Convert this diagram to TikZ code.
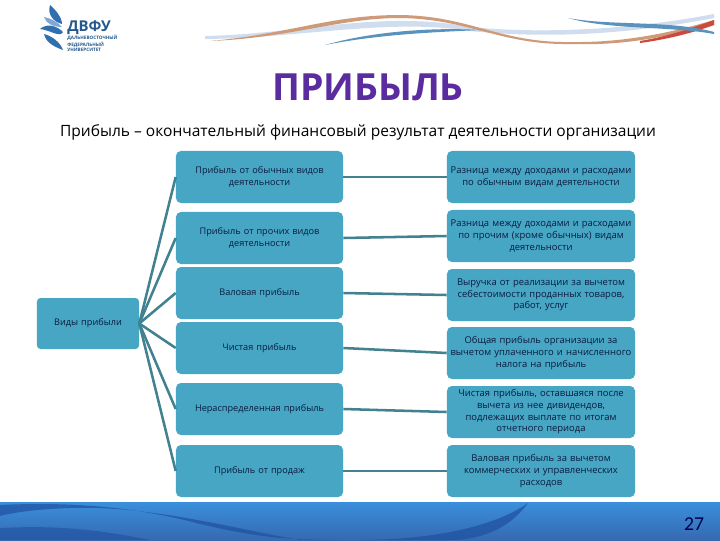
\documentclass[tikz,border=0pt]{standalone}
\usepackage{fontspec}
\setmainfont{Open Sans}
\newfontfamily\numfont{Carlito}
\usetikzlibrary{positioning}
\definecolor{boxblue}{HTML}{46A6C4}
\definecolor{linkteal}{HTML}{42818F}
\definecolor{titlepurple}{HTML}{5A2CA0}
\definecolor{inkblue}{HTML}{0B1B3F}
\definecolor{logoblue}{HTML}{2F6FB0}
\definecolor{logopale}{HTML}{7FA8D4}
\definecolor{ribbonpale}{HTML}{CFDDEE}
\definecolor{ribbonbrown}{HTML}{CE9A78}
\definecolor{ribbonred}{HTML}{CC4A3C}
\definecolor{ribbonblue}{HTML}{5A92BE}
\definecolor{bandtop}{HTML}{3A8FDC}
\definecolor{bandbottom}{HTML}{3669B0}
\definecolor{banddark}{HTML}{1F50A0}
\tikzset{
  leftbox/.style = {draw=none, fill=boxblue, rounded corners=3.5pt, minimum width=4.175cm, minimum height=1.3cm, align=center, font=\fontsize{6.5}{8.4}\selectfont, text=inkblue, inner sep=1pt, text width=3.9cm},
  rightbox/.style = {leftbox, minimum width=4.7cm, text width=4.6cm, font=\fontsize{6.7}{8.3}\selectfont},
  rootbox/.style = {leftbox, minimum width=2.55cm, minimum height=1.275cm, text width=2.4cm, rounded corners=2.5pt},
  link/.style = {draw=linkteal, line width=1.8pt}
}

\begin{document}
\begin{tikzpicture}[x=0.025cm, y=-0.025cm]
  \useasboundingbox (0,0) rectangle (720,540);

  % Background
  \fill[white] (0,0) rectangle (720,540);

  % Top ribbons
  \fill[ribbonpale] (205,36) .. controls (300,34) and (380,10) .. (470,27) .. controls (540,34) and (630,30) .. (714,14) -- (714,18) .. controls (620,36) and (540,38) .. (470,31) .. controls (390,18) and (300,38) .. (205,39) -- cycle;
  \fill[ribbonbrown] (210,41) .. controls (290,34) and (330,15) .. (400,15) .. controls (470,16) and (500,43) .. (570,42) .. controls (630,43) and (680,30) .. (714,20) -- (714,25) .. controls (670,35) and (630,46) .. (570,44) .. controls (500,45) and (470,19) .. (400,18) .. controls (340,18) and (290,38) .. (210,41) -- cycle;
  \fill[ribbonred] (640,41) .. controls (670,36) and (695,27) .. (714,20) -- (714,25) .. controls (695,32) and (670,39) .. (640,43) -- cycle;
  \fill[ribbonblue] (325,45) .. controls (370,32) and (430,27) .. (480,30) .. controls (440,32) and (380,34) .. (325,45) -- cycle;
  \fill[ribbonblue] (568,18) .. controls (610,26) and (670,20) .. (714,32) -- (714,34) .. controls (670,26) and (610,30) .. (568,18) -- cycle;

  % Logo
  \fill[logoblue] (50,5) .. controls (56,10) and (62,18) .. (62,24) .. controls (54,22) and (47,15) .. (50,5) -- cycle;
  \fill[logopale] (44,17) .. controls (50,18) and (58,22) .. (62,27) .. controls (54,27) and (46,24) .. (44,17) -- cycle;
  \fill[logoblue] (40,29) .. controls (48,22) and (58,27) .. (63,32) .. controls (60,38) and (50,30) .. (40,29) -- cycle;
  \fill[logoblue] (44,34) .. controls (52,36) and (60,42) .. (63,50) .. controls (55,47) and (46,43) .. (44,34) -- cycle;
  \node[inner sep=0pt, anchor=west, text=logoblue!80!black, font=\fontsize{10.6}{11}\bfseries\selectfont] (logoname) at (67,28) {ДВФУ};
  \node[inner sep=0pt, anchor=north west, text=logoblue!80!black, align=left, font=\fontsize{3.3}{3.7}\bfseries\selectfont] (logotext) at (67,35) {ДАЛЬНЕВОСТОЧНЫЙ\\ФЕДЕРАЛЬНЫЙ\\УНИВЕРСИТЕТ};

  % Bottom band
  \shade[top color=bandtop, bottom color=bandbottom] (0,502) rectangle (720,540);
  \fill[banddark, opacity=.7] (0,505) .. controls (60,502) and (130,505) .. (200,524) .. controls (260,538) and (290,540) .. (340,540) -- (300,540) .. controls (240,530) and (150,505) .. (70,508) .. controls (40,509) and (15,512) .. (0,516) -- cycle;
  \fill[banddark, opacity=.6] (0,528) .. controls (60,525) and (100,530) .. (150,540) -- (0,540) -- cycle;
  \fill[banddark, opacity=.7] (360,540) .. controls (420,540) and (490,530) .. (528,503) .. controls (505,535) and (470,540) .. (450,540) -- cycle;
  \node[text=blue!30!black, font=\numfont\fontsize{14}{15}\selectfont, inner sep=0pt] (pagenum) at (694,524) {27};

  % Title
  \node[inner sep=0pt, text=titlepurple, font=\fontsize{26.6}{28}\bfseries\selectfont] (title) at (368,87) {ПРИБЫЛЬ};
  \node[inner sep=0pt, text=black, font=\fontsize{11.05}{13}\selectfont] (subtitle) at (358,132) {Прибыль – окончательный финансовый результат деятельности организации};

  % Boxes
  \node[rootbox] (root) at (88,323.5) {Виды прибыли};

  \node[leftbox] (ordinary) at (259.5,177) {Прибыль от обычных видов\\деятельности};
  \node[leftbox] (other) at (259.5,238) {Прибыль от прочих видов\\деятельности};
  \node[leftbox] (gross) at (259.5,293) {Валовая прибыль};
  \node[leftbox] (net) at (259.5,348) {Чистая прибыль};
  \node[leftbox] (retained) at (259.5,409) {Нераспределенная прибыль};
  \node[leftbox] (sales) at (259.5,471) {Прибыль от продаж};

  \node[rightbox] (ordinarydef) at (541,177) {Разница между доходами и расходами\\по обычным видам деятельности};
  \node[rightbox] (otherdef) at (541,236) {Разница между доходами и расходами\\по прочим (кроме обычных) видам\\деятельности};
  \node[rightbox] (grossdef) at (541,295) {Выручка от реализации за вычетом\\себестоимости проданных товаров,\\работ, услуг};
  \node[rightbox] (netdef) at (541,353) {Общая прибыль организации за\\вычетом уплаченного и начисленного\\налога на прибыль};
  \node[rightbox] (retaineddef) at (541,412) {Чистая прибыль, оставшаяся после\\вычета из нее дивидендов,\\подлежащих выплате по итогам\\отчетного периода};
  \node[rightbox] (salesdef) at (541,471) {Валовая прибыль за вычетом\\коммерческих и управленческих\\расходов};

  % Connectors
  \foreach \leaf in {ordinary, other, gross, net, retained, sales}
    \draw[link] (root.east) -- (\leaf.west);
  \foreach \leaf in {ordinary, other, gross, net, retained, sales}
    \draw[link] (\leaf.east) -- (\leaf def.west);

\end{tikzpicture}
\end{document}
